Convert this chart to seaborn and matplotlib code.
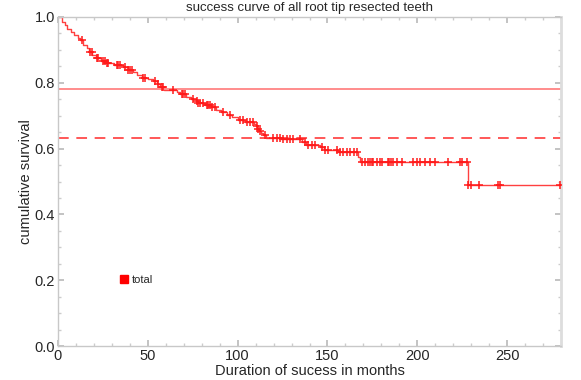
import numpy as np
import pandas as pd
import matplotlib
matplotlib.use("Agg")
import matplotlib.pyplot as plt
import seaborn as sns
from matplotlib.lines import Line2D

# step function: event times (months) and survival after each event
event_times = [0, 2, 4, 5, 7, 9, 11, 12, 14, 16, 17, 19, 21, 24, 27, 31, 36, 39, 42, 44,
               47, 50, 53, 55, 57, 59, 66, 68, 71, 74, 77, 78, 82, 85, 88, 91, 94, 97,
               100, 104, 109, 110, 111, 112, 113, 114, 116, 124, 136, 138, 146, 148,
               156, 167, 168, 228]
survival = [1.0, 0.985, 0.975, 0.965, 0.955, 0.945, 0.935, 0.93, 0.915, 0.905, 0.895,
            0.885, 0.875, 0.865, 0.860, 0.855, 0.848, 0.840, 0.832, 0.824, 0.815, 0.812,
            0.805, 0.795, 0.786, 0.778, 0.772, 0.765, 0.758, 0.752, 0.745, 0.738, 0.732,
            0.725, 0.718, 0.711, 0.703, 0.695, 0.687, 0.681, 0.675, 0.668, 0.661, 0.654,
            0.647, 0.640, 0.633, 0.628, 0.620, 0.612, 0.604, 0.596, 0.590, 0.573, 0.558,
            0.489]
end_time = 280

censor_times = [13.2, 17.8, 18.7, 21.5, 22.4, 25.2, 26.2, 27.1, 28, 32.7, 33.6, 34.5,
                37.3, 39.1, 40.1, 41, 47.5, 48.4, 54, 55.9, 57.7, 58.6, 64.2, 68.9, 69.8,
                70.7, 75.3, 77.2, 78.1, 79, 80.9, 82.8, 83.7, 84.6, 85.6, 87.4, 92, 95.8,
                101.3, 103.2, 105.1, 106.9, 108.7, 110.6, 111.5, 112.5, 115.3, 119.9,
                121.8, 123.6, 125.5, 127.3, 129.2, 131, 134.7, 137.5, 139.3, 141.2, 143,
                146.8, 148.7, 150.5, 155.2, 157.1, 158.9, 160.8, 162.6, 164.5, 166.4,
                169, 171, 172.5, 173.7, 174.6, 175.4, 177.5, 179.3, 180.2, 183.7, 184.3,
                185.2, 186.5, 188.5, 191.3, 197.6, 199.7, 201.5, 204.3, 207, 209.8, 217,
                223.8, 224.7, 227.5, 228.5, 229.8, 234.6, 245.2, 246.1, 279.5]

ref_solid = 0.781
ref_dashed = 0.632

title = "success curve of all root tip resected teeth"
xlabel = "Duration of sucess in months"
ylabel = "cumulative survival"
legend_label = "total"

sns.set_theme(style="white")
plt.rcParams['font.family'] = ['Liberation Sans', 'DejaVu Sans']

fig = plt.figure(figsize=(5.81, 3.80), dpi=100)
ax = fig.add_axes([58/581, 34/380, 503/581, 329/380])

steps = pd.DataFrame({"t": event_times + [end_time], "s": survival + [survival[-1]]})
sns.lineplot(data=steps, x="t", y="s", drawstyle="steps-post", color="#ff4040",
             linewidth=1.0, ax=ax, estimator=None, sort=False)

et = np.array(event_times)
sv = np.array(survival)
idx = np.searchsorted(et, np.array(censor_times), side="right") - 1
cens = pd.DataFrame({"t": censor_times, "s": sv[idx]})
sns.scatterplot(data=cens, x="t", y="s", marker="+", s=36, color="#ff1a1a",
                linewidth=1.1, ax=ax, zorder=3)

ax.axhline(ref_solid, color="#ff8c8c", linewidth=1.4)
ax.axhline(ref_dashed, color="#ff2a2a", linewidth=1.1, linestyle=(0, (7, 5)))

ax.set_xlim(0, 280)
ax.set_ylim(0, 1.0)
ax.set_xticks([0, 50, 100, 150, 200, 250])
ax.set_xticks(np.arange(0, 281, 10), minor=True)
ax.set_yticks([0.0, 0.2, 0.4, 0.6, 0.8, 1.0])
ax.set_yticks(np.arange(0, 1.01, 0.05), minor=True)
ax.set_yticklabels(["0.0", "0.2", "0.4", "0.6", "0.8", "1.0"])
ax.tick_params(axis="both", which="major", direction="in", length=4, color="#bbbbbb",
               labelsize=10.5, pad=2, bottom=True, left=True, top=True, right=True)
ax.tick_params(axis="both", which="minor", direction="in", length=2, color="#cccccc",
               bottom=True, left=True, top=True, right=True)
for sp in ax.spines.values():
    sp.set_color("#c8c8c8")
    sp.set_linewidth(1.0)
ax.spines["right"].set_linewidth(2.0)
ax.spines["right"].set_color("#dddddd")

ax.set_xlabel(xlabel, fontsize=10.5, labelpad=1)
ax.set_ylabel(ylabel, fontsize=10.5, labelpad=1)
ax.set_title(title, fontsize=9.5, pad=4)

handle = Line2D([], [], marker="s", linestyle="none", color="#ff0000", markersize=6)
ax.legend([handle], [legend_label], loc="center left", bbox_to_anchor=(0.098, 0.2),
          frameon=False, fontsize=8, handletextpad=0.1, handlelength=1.2)

fig.savefig("out.png", dpi=100)
